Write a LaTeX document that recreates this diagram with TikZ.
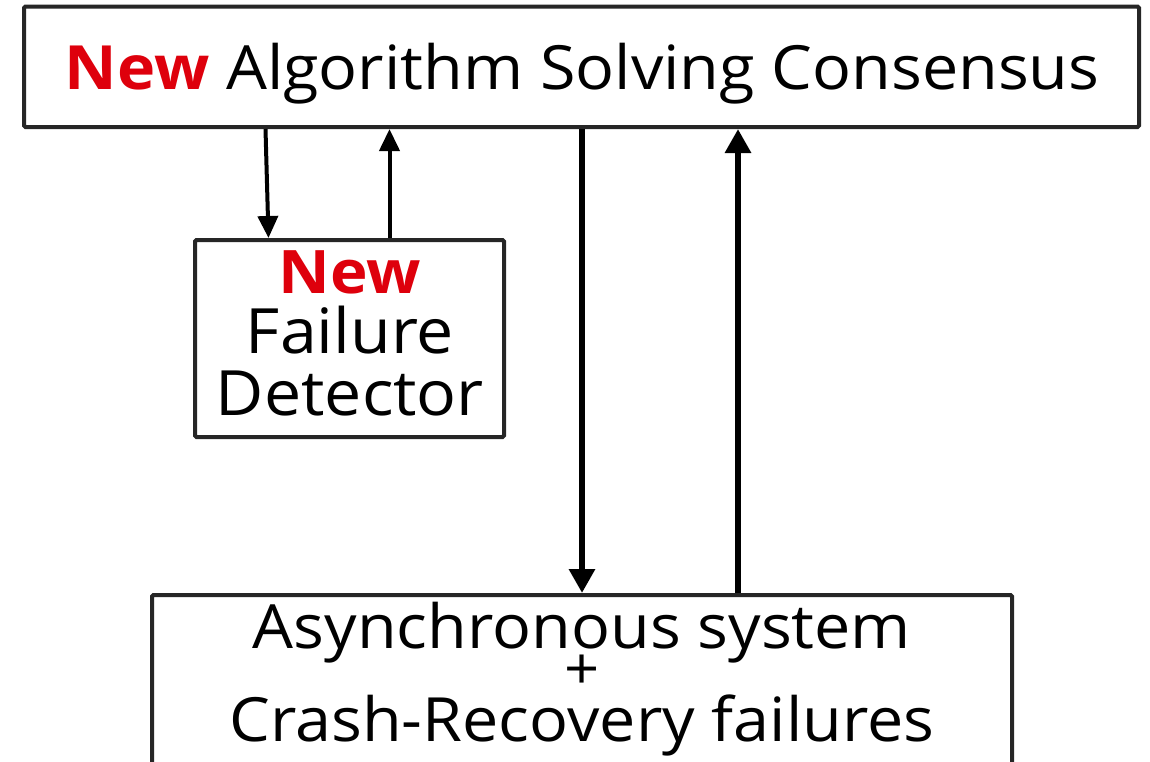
\documentclass[tikz,border=0pt]{standalone}
\usepackage{fontspec}
\setmainfont{Open Sans}[FakeStretch=1.06]
\usetikzlibrary{arrows.meta}
\definecolor{abbred}{RGB}{222,0,12}
\definecolor{boxgray}{RGB}{38,38,38}
\begin{document}
\begin{tikzpicture}[x=1pt,y=-1pt,
  box/.style={draw=boxgray,line width=4pt,rounded corners=1.5pt,inner sep=0pt,fill=white},
  txt/.style={anchor=base,inner sep=0pt,font=\fontsize{61}{66}\selectfont},
  fdtxt/.style={anchor=base,inner sep=0pt,font=\fontsize{62.5}{66}\selectfont},
  thinarr/.style={line width=4pt,-{Triangle[width=20pt,length=22pt]}},
  thickarr/.style={line width=6.5pt,-{Triangle[width=25pt,length=24pt]}}]
\useasboundingbox (0,0) rectangle (1150,761);
\node[box,minimum width=1115pt,minimum height=120.5pt] (top) at (581.5,66.75) {};
\node[box,minimum width=309pt,minimum height=197pt] (fd) at (349.5,338.5) {};
\node[box,minimum width=860pt,minimum height=195pt] (sys) at (582,692.5) {};
\node[txt] (toptext) at (582,89) {\textcolor{abbred}{\bfseries New} Algorithm Solving Consensus};
\node[fdtxt,text=abbred,font=\fontsize{60}{66}\selectfont\bfseries] (fdnew) at (350,293) {New};
\node[fdtxt] (fdl1) at (350,353) {Failure};
\node[fdtxt] (fdl2) at (350,415) {Detector};
\node[txt,text depth=0pt] (sysl1) at (582,648) {Asynchronous system};
\node[txt,text height=28pt,font=\fontsize{58}{66}\selectfont] (sysl2) at (582,689) {+};
\node[txt] (sysl3) at (582,741) {Crash-Recovery failures};
\draw[thinarr] ([xshift=243.5pt]top.south west) -- ([xshift=75.5pt]fd.north west);
\draw[thinarr] ([xshift=196.5pt]fd.north west) -- ([xshift=196.5pt]fd.north west |- top.south);
\draw[thickarr] (top.south -| sys.north) -- (sys.north);
\draw[thickarr] ([xshift=156pt]sys.north) -- ([xshift=156pt]sys.north |- top.south);
\end{tikzpicture}
\end{document}
